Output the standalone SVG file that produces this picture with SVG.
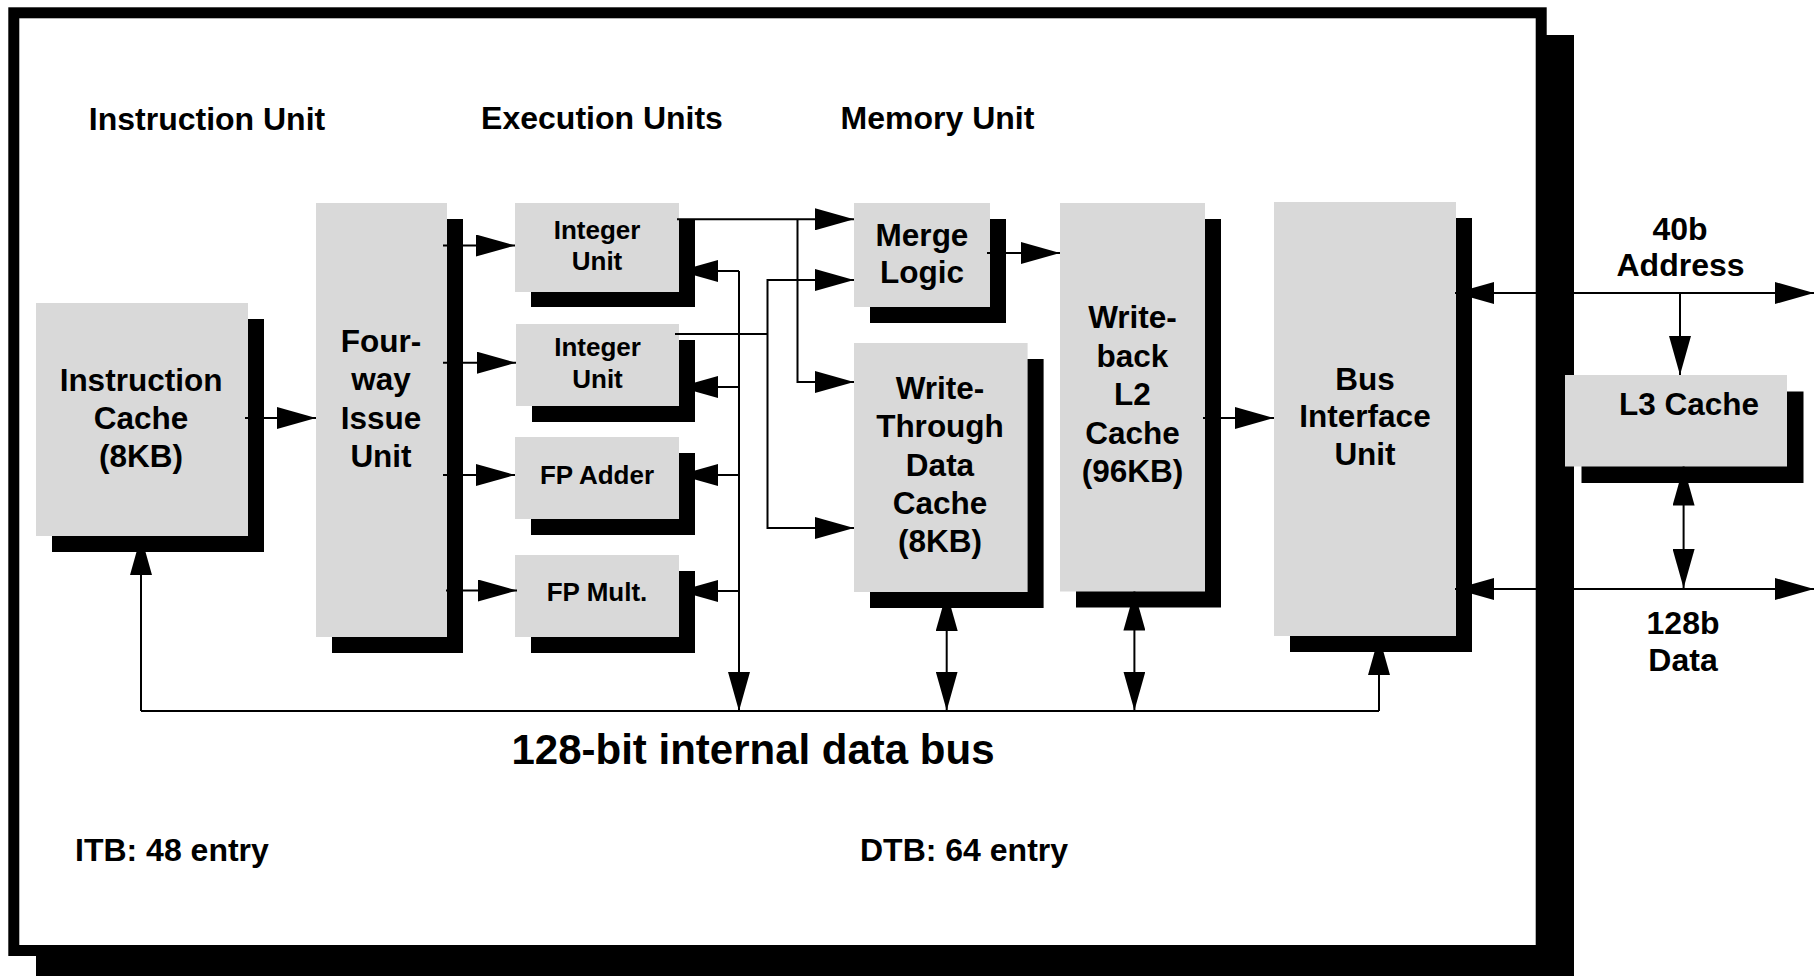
<svg xmlns="http://www.w3.org/2000/svg" width="1817" height="976" viewBox="0 0 1817 976">
<defs>
<style>
text{font-family:'Liberation Sans',Arial,Helvetica,sans-serif;font-weight:bold;fill:#000;text-anchor:middle}
.t32{font-size:32px}
.t31{font-size:31.5px}
.t26{font-size:26px}
.t42{font-size:42px}
.box{fill:#d9d9d9}
.sh{fill:#000}
.c{fill:none;stroke:#000;stroke-width:2}
.a{marker-end:url(#ah)}
.b{marker-start:url(#ah);marker-end:url(#ah)}
</style>
<marker id="ah" viewBox="0 0 39 22" refX="39" refY="11" markerWidth="39" markerHeight="22" markerUnits="userSpaceOnUse" orient="auto-start-reverse">
<path d="M0,0 L39,11 L0,22 z" fill="#000"/>
</marker>
</defs>
<rect width="1817" height="976" fill="#fff"/>
<g id="frame">
<rect x="36" y="35" width="1538" height="950" fill="#000"/>
<rect x="13.8" y="12.8" width="1527.4" height="937.7" fill="#fff" stroke="#000" stroke-width="11"/>
</g>
<g id="labels">
<text class="t32" x="207" y="129.5">Instruction Unit</text>
<text class="t32" x="602" y="128.5">Execution Units</text>
<text class="t32" x="937.5" y="128.5">Memory Unit</text>
<text class="t42" x="753" y="764">128-bit internal data bus</text>
<text class="t32" x="75" y="861" style="text-anchor:start">ITB: 48 entry</text>
<text class="t32" x="860" y="861" style="text-anchor:start">DTB: 64 entry</text>
<text class="t32" x="1680" y="240">40b</text>
<text class="t32" x="1680.5" y="276">Address</text>
<text class="t32" x="1683" y="633.5">128b</text>
<text class="t32" x="1683" y="671">Data</text>
</g>
<g id="icache">
<rect class="sh" x="52" y="319" width="212" height="233"/>
<rect class="box" x="36" y="303" width="212" height="233"/>
<text class="t31" x="141" y="391">Instruction</text>
<text class="t31" x="141" y="429">Cache</text>
<text class="t31" x="141" y="466.5">(8KB)</text>
</g>
<g id="issue">
<rect class="sh" x="332" y="219" width="131" height="434"/>
<rect class="box" x="316" y="203" width="131" height="434"/>
<text class="t31" x="381" y="352">Four-</text>
<text class="t31" x="381" y="390">way</text>
<text class="t31" x="381" y="429">Issue</text>
<text class="t31" x="381" y="467">Unit</text>
</g>
<g id="int1">
<rect class="sh" x="531" y="219" width="164" height="88"/>
<rect class="box" x="515" y="203" width="164" height="89"/>
<text class="t26" x="597" y="238.5">Integer</text>
<text class="t26" x="597" y="270">Unit</text>
</g>
<g id="int2">
<rect class="sh" x="532" y="340" width="163" height="82"/>
<rect class="box" x="516" y="324" width="163" height="82"/>
<text class="t26" x="597.5" y="356">Integer</text>
<text class="t26" x="597.5" y="387.5">Unit</text>
</g>
<g id="fpadd">
<rect class="sh" x="531" y="453" width="164" height="82"/>
<rect class="box" x="515" y="437" width="164" height="82"/>
<text class="t26" x="597" y="483.5">FP Adder</text>
</g>
<g id="fpmul">
<rect class="sh" x="531" y="571" width="164" height="82"/>
<rect class="box" x="515" y="555" width="164" height="82"/>
<text class="t26" x="597" y="601">FP Mult.</text>
</g>
<g id="merge">
<rect class="sh" x="870" y="219" width="136" height="104"/>
<rect class="box" x="854" y="203" width="136" height="104"/>
<text class="t31" x="922" y="246">Merge</text>
<text class="t31" x="922" y="283">Logic</text>
</g>
<g id="wtcache">
<rect class="sh" x="870" y="359" width="173.6" height="249"/>
<rect class="box" x="854" y="343" width="173.6" height="249"/>
<text class="t31" x="940" y="399">Write-</text>
<text class="t31" x="940" y="437">Through</text>
<text class="t31" x="940" y="475.5">Data</text>
<text class="t31" x="940" y="514">Cache</text>
<text class="t31" x="940" y="552">(8KB)</text>
</g>
<g id="l2cache">
<rect class="sh" x="1076" y="219" width="145" height="388.5"/>
<rect class="box" x="1060" y="203" width="145" height="388.5"/>
<text class="t31" x="1132.5" y="328">Write-</text>
<text class="t31" x="1132.5" y="366.5">back</text>
<text class="t31" x="1132.5" y="405">L2</text>
<text class="t31" x="1132.5" y="444">Cache</text>
<text class="t31" x="1132.5" y="482">(96KB)</text>
</g>
<g id="biu">
<rect class="sh" x="1290" y="218" width="182" height="434"/>
<rect class="box" x="1274" y="202" width="182" height="434"/>
<text class="t31" x="1365" y="389.5">Bus</text>
<text class="t31" x="1365" y="427">Interface</text>
<text class="t31" x="1365" y="465">Unit</text>
</g>
<g id="l3cache">
<rect class="sh" x="1581.5" y="391.5" width="222" height="91.5"/>
<rect class="box" x="1565" y="375" width="222" height="91.5"/>
<text class="t31" x="1689" y="414.5">L3 Cache</text>
</g>
<g id="connectors">
<path class="c a" d="M245,418 H316"/>
<path class="c a" d="M443,245.5 H515"/>
<path class="c a" d="M443,362.7 H516"/>
<path class="c a" d="M443,475 H515"/>
<path class="c a" d="M446,590.5 H517"/>
<path class="c a" d="M739,271 V711"/>
<path class="c a" d="M739,271 H679"/>
<path class="c a" d="M739,387 H679"/>
<path class="c a" d="M739,475 H679"/>
<path class="c a" d="M739,591 H679"/>
<path class="c a" d="M677,219.3 H854"/>
<path class="c a" d="M797.5,219.3 V382 H854"/>
<path class="c" d="M675,334 H767.5"/>
<path class="c a" d="M854,280 H767.5 V528 H854" style="marker-start:url(#ah)"/>
<path class="c a" d="M987,253 H1060"/>
<path class="c a" d="M1203,418 H1274"/>
<path class="c" d="M141,711 H1379"/>
<path class="c a" d="M141,711 V536"/>
<path class="c b" d="M946.7,592 V710.5"/>
<path class="c b" d="M1134.4,591.5 V710.5"/>
<path class="c a" d="M1379,711 V636"/>
<path class="c b" d="M1455,293 H1814"/>
<path class="c a" d="M1680,293 V375"/>
<path class="c b" d="M1455,589 H1814"/>
<path class="c b" d="M1683.6,466.5 V588"/>
</g>
</svg>
